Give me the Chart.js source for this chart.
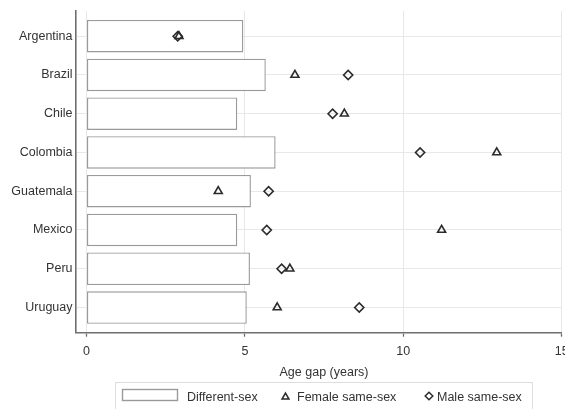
<!DOCTYPE html>
<html><head><meta charset="utf-8">
<script src="https://cdn.jsdelivr.net/npm/chart.js@4.4.1/dist/chart.umd.min.js"></script>
<style>
html,body{margin:0;padding:0;width:565px;height:409px;overflow:hidden;background:#fff}
#wrap{position:relative;width:580px;height:409px}
</style></head>
<body><div id="wrap"><canvas id="c"></canvas></div>
<script>
const categories = ['Argentina','Brazil','Chile','Colombia','Guatemala','Mexico','Peru','Uruguay'];
const differentSex = [4.95, 5.66, 4.76, 5.97, 5.19, 4.76, 5.16, 5.06];
const femaleSameSex = [2.92, 6.58, 8.14, 12.95, 4.16, 11.21, 6.42, 6.02];
const maleSameSex = [2.88, 8.26, 7.77, 10.53, 5.75, 5.69, 6.16, 8.61];
const xTickValues = [0, 5, 10, 15];
const xTitle = 'Age gap (years)';
const seriesLabels = ['Different-sex', 'Female same-sex', 'Male same-sex'];

const INK = '#333333';
const MARK = '#2b2b2b';
const AXIS = '#6f6f6f';
const GRID = '#e8e8e8';
const FONT = "'Liberation Sans', Arial, sans-serif";

Chart.defaults.font.family = FONT;
Chart.defaults.font.size = 12.5;
Chart.defaults.color = INK;

function toXY(arr){ return arr.map((v,i)=>({x:v, y:i})); }

function tri(ctx, x, y, r){
  ctx.beginPath();
  ctx.moveTo(x, y - r);
  ctx.lineTo(x + r*Math.sin(2*Math.PI/3), y - r*Math.cos(2*Math.PI/3));
  ctx.lineTo(x + r*Math.sin(4*Math.PI/3), y - r*Math.cos(4*Math.PI/3));
  ctx.closePath();
  ctx.stroke();
}
function dia(ctx, x, y, r){
  ctx.beginPath();
  ctx.moveTo(x - r, y); ctx.lineTo(x, y - r); ctx.lineTo(x + r, y); ctx.lineTo(x, y + r);
  ctx.closePath();
  ctx.stroke();
}

const boxLegend = {
  id: 'boxLegend',
  afterDraw(chart){
    const ctx = chart.ctx;
    ctx.save();
    // axis title (centred on the whole graph region, as in the original)
    ctx.fillStyle = INK;
    ctx.font = "12.5px " + FONT;
    ctx.textAlign = 'center';
    ctx.textBaseline = 'alphabetic';
    ctx.fillText(xTitle, 324, 376);
    // legend box
    ctx.strokeStyle = '#dedede'; ctx.lineWidth = 1;
    ctx.strokeRect(115.5, 382.5, 417, 40);
    ctx.fillStyle = '#fff';
    ctx.fillRect(122, 389, 56, 12);
    ctx.strokeStyle = '#9a9a9a'; ctx.lineWidth = 1.4;
    ctx.strokeRect(122.5, 389.5, 55, 11);
    ctx.strokeStyle = MARK; ctx.lineWidth = 1.5; ctx.lineJoin = 'miter';
    tri(ctx, 285.5, 397, 4);
    dia(ctx, 429, 396, 3.8);
    ctx.fillStyle = INK;
    ctx.textAlign = 'left';
    ctx.fillText(seriesLabels[0], 187, 401);
    ctx.fillText(seriesLabels[1], 297, 401);
    ctx.fillText(seriesLabels[2], 437, 401);
    ctx.restore();
  }
};

new Chart(document.getElementById('c'), {
  type: 'bar',
  data: {
    datasets: [
      {
        type: 'scatter', label: seriesLabels[1], data: toXY(femaleSameSex),
        pointStyle: 'triangle', pointRadius: 4.6, pointBorderWidth: 1.6,
        borderColor: MARK, backgroundColor: 'rgba(0,0,0,0)', order: 1
      },
      {
        type: 'scatter', label: seriesLabels[2], data: toXY(maleSameSex),
        pointStyle: 'rectRot', pointRadius: 4.6, pointBorderWidth: 1.6,
        borderColor: MARK, backgroundColor: 'rgba(0,0,0,0)', order: 2
      },
      {
        type: 'bar', label: seriesLabels[0], data: toXY(differentSex),
        backgroundColor: '#ffffff', borderColor: '#9a9a9a', borderWidth: 1.4,
        borderSkipped: false, barPercentage: 0.84, categoryPercentage: 1, order: 3
      }
    ]
  },
  options: {
    indexAxis: 'y',
    responsive: true,
    maintainAspectRatio: false,
    animation: false,
    events: [],
    layout: { padding: { top: 10, left: 0, right: 18.3, bottom: 30.8 } },
    plugins: { legend: { display: false }, tooltip: { enabled: false } },
    scales: {
      x: {
        type: 'linear', position: 'bottom', min: -0.33, max: 15, offset: false,
        afterBuildTicks(scale){ scale.ticks = xTickValues.map(v => ({value: v})); },
        afterFit(scale){ scale.height = 45.5; },
        ticks: { padding: 7.5, color: INK },
        grid: { offset: false, color: GRID, lineWidth: 1, drawTicks: true, tickLength: 4, tickColor: AXIS, tickWidth: 1.3 },
        border: { display: true, color: AXIS, width: 1.6 },
        title: { display: false, text: xTitle }
      },
      y: {
        type: 'linear', position: 'left', min: -0.65, max: 7.65, reverse: true, offset: false,
        afterBuildTicks(scale){ scale.ticks = categories.map((c, i) => ({value: i})); },
        afterFit(scale){ scale.width = 76; },
        ticks: { padding: 3.5, color: INK, callback: (v) => categories[v] ?? '' },
        grid: { offset: false, color: GRID, lineWidth: 1, drawTicks: false },
        border: { display: true, color: AXIS, width: 1.6 }
      }
    }
  },
  plugins: [boxLegend]
});
</script>
</body></html>
